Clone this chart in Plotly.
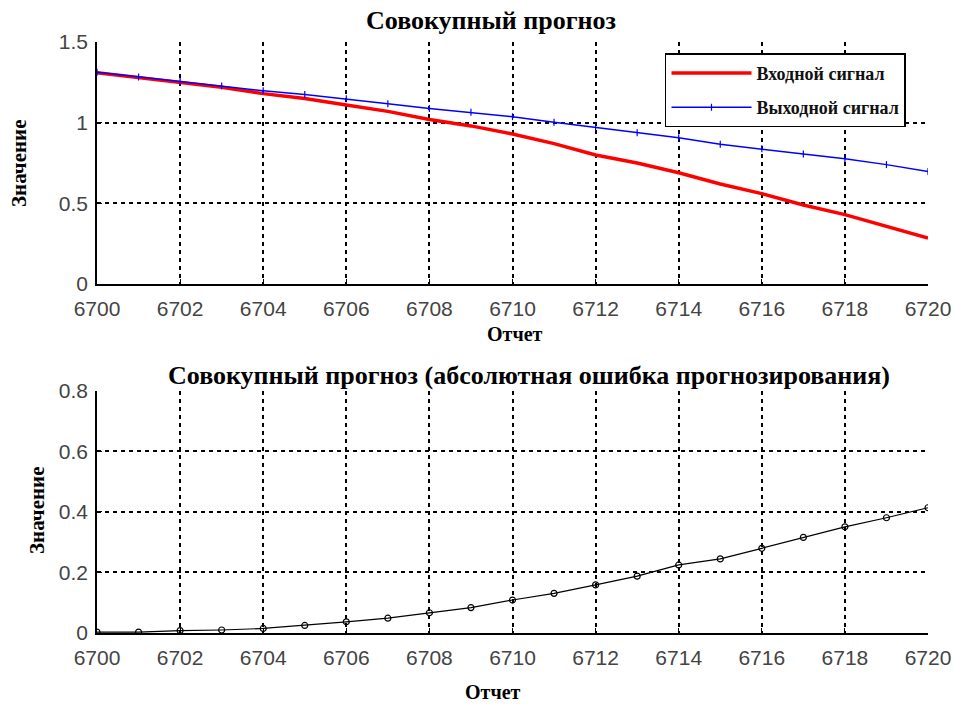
import plotly.graph_objects as go

# Sample index (Отчет)
samples = list(range(6700, 6721))

# Input signal (red)
input_signal = [1.310, 1.280, 1.250, 1.220, 1.180, 1.150, 1.110, 1.070, 1.020, 0.980,
                0.930, 0.870, 0.800, 0.750, 0.690, 0.620, 0.560, 0.490, 0.430, 0.360, 0.285]
# Output signal (blue)
output_signal = [1.312, 1.283, 1.255, 1.228, 1.198, 1.175, 1.148, 1.118, 1.088, 1.064,
                 1.037, 1.003, 0.972, 0.938, 0.906, 0.866, 0.838, 0.806, 0.777, 0.740, 0.697]
# Absolute forecast error (black)
abs_error = [0.003, 0.003, 0.008, 0.010, 0.015, 0.025, 0.037, 0.049, 0.067, 0.084,
             0.109, 0.131, 0.159, 0.188, 0.225, 0.245, 0.280, 0.316, 0.351, 0.381, 0.414]

x_ticks = list(range(6700, 6721, 2))

SERIF = "Liberation Serif, Times New Roman, serif"
SANS = "Liberation Sans, Arial, sans-serif"

fig = go.Figure()

fig.add_trace(go.Scatter(
    x=samples, y=input_signal, mode="lines", name="<b>Входной сигнал</b>",
    legendgroup="in", line=dict(color="#ff0000", width=3.5), xaxis="x", yaxis="y"))
fig.add_trace(go.Scatter(
    x=samples, y=output_signal, mode="lines+markers", name="<b>Выходной сигнал</b>",
    legendgroup="out", line=dict(color="#0000ff", width=1.5),
    marker=dict(symbol="line-ns", size=5, line=dict(color="#0000ff", width=1.2)),
    xaxis="x", yaxis="y"))
fig.add_trace(go.Scatter(
    x=samples, y=abs_error, mode="lines+markers", name="Абсолютная ошибка",
    line=dict(color="#000000", width=1.2),
    marker=dict(symbol="circle-open", size=6, color="#000000", line=dict(width=1.2)),
    xaxis="x2", yaxis="y2", showlegend=False))

axis_common = dict(
    showgrid=True, gridcolor="#000000", griddash="4px,4px", gridwidth=1.5,
    showline=True, linecolor="#000000", linewidth=1.5, mirror=False,
    ticks="inside", ticklen=5, tickcolor="#000000",
    tickfont=dict(family=SANS, size=21, color="#444444"),
    zeroline=False, automargin=False,
)

fig.update_layout(
    width=955, height=704,
    margin=dict(l=97, r=27, t=42, b=71),
    paper_bgcolor="white", plot_bgcolor="white",
    xaxis=dict(domain=[0, 1], anchor="y", range=[6700, 6720], tickvals=x_ticks,
               ticklabelstandoff=5, **axis_common),
    yaxis=dict(domain=[0.5905, 1], anchor="x", range=[0, 1.5], ticklabelstandoff=3,
               tickvals=[0, 0.5, 1, 1.5], ticktext=["0", "0.5", "1", "1.5"], **axis_common),
    xaxis2=dict(domain=[0, 1], anchor="y2", range=[6700, 6720], tickvals=x_ticks,
                ticklabelstandoff=5, **axis_common),
    yaxis2=dict(domain=[0, 0.4095], anchor="x2", range=[0, 0.8], ticklabelstandoff=3,
                tickvals=[0, 0.2, 0.4, 0.6, 0.8], ticktext=["0", "0.2", "0.4", "0.6", "0.8"],
                **axis_common),
    legend=dict(x=0.6835, y=0.981, xanchor="left", yanchor="top",
                bgcolor="white", bordercolor="#000000", borderwidth=1.5,
                font=dict(family=SERIF, size=18, color="#111111"),
                traceorder="grouped", tracegroupgap=8,
                itemwidth=80, entrywidth=220, entrywidthmode="pixels"),
    showlegend=True,
)

annotations = [
    dict(text="<b>Совокупный прогноз</b>", x=491, y=20, font=dict(family=SERIF, size=26)),
    dict(text="<b>Совокупный прогноз (абсолютная ошибка прогнозирования)</b>", x=529, y=375,
         font=dict(family=SERIF, size=26)),
    dict(text="<b>Отчет</b>", x=515, y=334, font=dict(family=SERIF, size=20)),
    dict(text="<b>Отчет</b>", x=493, y=692, font=dict(family=SERIF, size=20)),
    dict(text="<b>Значение</b>", x=19, y=163, textangle=-90, font=dict(family=SERIF, size=21)),
    dict(text="<b>Значение</b>", x=37, y=510, textangle=-90, font=dict(family=SERIF, size=21)),
]
for a in annotations:
    px, py = a.pop("x"), a.pop("y")
    fig.add_annotation(
        xref="paper", yref="paper",
        x=(px - 97) / 831, y=(633 - py) / 591,
        xanchor="center", yanchor="middle", showarrow=False,
        font_color="#000000", **a)

fig.write_html("out.html")
